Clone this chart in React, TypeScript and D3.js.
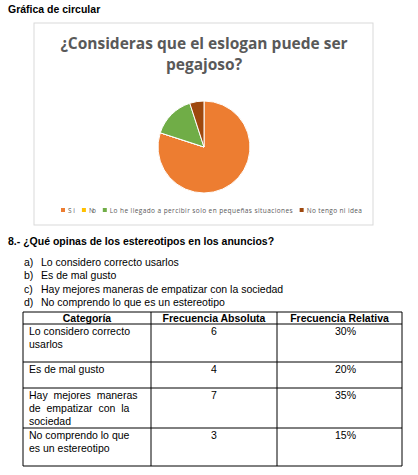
import React from 'react';
import * as d3 from 'd3';

const pieLabels = ['Si', 'No', 'Lo he llegado a percibir solo en pequeñas situaciones', 'No tengo ni idea'];
const pieValues = [16, 0, 3, 1];
const pieColors = ['#ED7D31', '#FFC000', '#70AD47', '#9E480E'];

const options = ['Lo considero correcto usarlos', 'Es de mal gusto', 'Hay mejores maneras de empatizar con la sociedad', 'No comprendo lo que es un estereotipo'];
const headers = ['Categoría', 'Frecuencia Absoluta', 'Frecuencia Relativa'];
const catLines = [['Lo considero correcto', 'usarlos'], ['Es de mal gusto'], ['Hay  mejores  maneras', 'de  empatizar  con  la', 'sociedad'], ['No comprendo lo que', 'es un estereotipo']];
const absVals = [6, 4, 7, 3];
const relVals = ['30%', '20%', '35%', '15%'];

const font = 'Arial, "Liberation Sans", sans-serif';
const calib = '"Open Sans", Carlito, sans-serif';

const App: React.FC = () => {
  const pie = d3.pie<number>().sort(null).value((d) => d);
  const arcs = pie(pieValues);
  const arc = d3.arc<d3.PieArcDatum<number>>().innerRadius(0).outerRadius(46);

  const colX = [23, 151, 277, 402];
  const rowY = [312, 324, 362, 388, 428, 466];

  // legend layout
  const cw = 3.45;
  const legendItems: { x: number; i: number }[] = [];
  let lx = 61;
  pieLabels.forEach((l, i) => {
    legendItems.push({ x: lx, i });
    lx += 7 + l.length * cw + 7;
  });

  return (
    <svg width={418} height={475} style={{ position: 'absolute', left: 0, top: 0 }}>
      <rect width={418} height={475} fill="#fff" />
      <text x={8} y={13} fontFamily={font} fontSize={10.5} fontWeight="bold">Gráfica de circular</text>
      <rect x={34} y={23} width={339} height={202} fill="#fff" stroke="#d9d9d9" />
      <text x={204} y={49} textAnchor="middle" fontFamily={calib} fontSize={15.5} fontWeight="bold" fill="#595959">¿Consideras que el eslogan puede ser</text>
      <text x={204} y={70} textAnchor="middle" fontFamily={calib} fontSize={15.5} fontWeight="bold" fill="#595959">pegajoso?</text>
      <g transform="translate(204,147)">
        {arcs.map((a, i) => (
          <path key={i} d={arc(a) || ''} fill={pieColors[i]} stroke="#fff" strokeWidth={1} />
        ))}
      </g>
      {legendItems.map(({ x, i }) => (
        <g key={i}>
          <rect x={x} y={208} width={4} height={4} fill={pieColors[i]} />
          <text x={x + 7} y={212.5} fontFamily={calib} fontSize={6.5} fill="#595959"
            textLength={pieLabels[i].length * cw} lengthAdjust="spacing">{pieLabels[i]}</text>
        </g>
      ))}
      <text x={8} y={245} fontFamily={font} fontSize={10.5} fontWeight="bold">8.- ¿Qué opinas de los estereotipos en los anuncios?</text>
      {options.map((o, i) => (
        <g key={i} fontFamily={font} fontSize={10.5}>
          <text x={24} y={266 + i * 13.3}>{String.fromCharCode(97 + i)})</text>
          <text x={41} y={266 + i * 13.3}>{o}</text>
        </g>
      ))}
      <g stroke="#000" strokeWidth={1}>
        {rowY.map((y, i) => <line key={i} x1={colX[0]} x2={colX[3]} y1={y} y2={y} />)}
        {colX.map((x, i) => <line key={i} x1={x} x2={x} y1={rowY[0]} y2={rowY[5]} />)}
      </g>
      {headers.map((h, i) => (
        <text key={i} x={(colX[i] + colX[i + 1]) / 2} y={322} textAnchor="middle" fontFamily={font} fontSize={10.5} fontWeight="bold">{h}</text>
      ))}
      {catLines.map((lines, r) => (
        <g key={r} fontFamily={font} fontSize={10.5}>
          {lines.map((l, k) => <text key={k} x={29} y={rowY[r + 1] + 11 + k * 13} xmlSpace="preserve">{l}</text>)}
          <text x={(colX[1] + colX[2]) / 2} y={rowY[r + 1] + 11} textAnchor="middle">{absVals[r]}</text>
          <text x={(colX[2] + colX[3]) / 2 + 6} y={rowY[r + 1] + 11} textAnchor="middle">{relVals[r]}</text>
        </g>
      ))}
    </svg>
  );
};

export default App;
